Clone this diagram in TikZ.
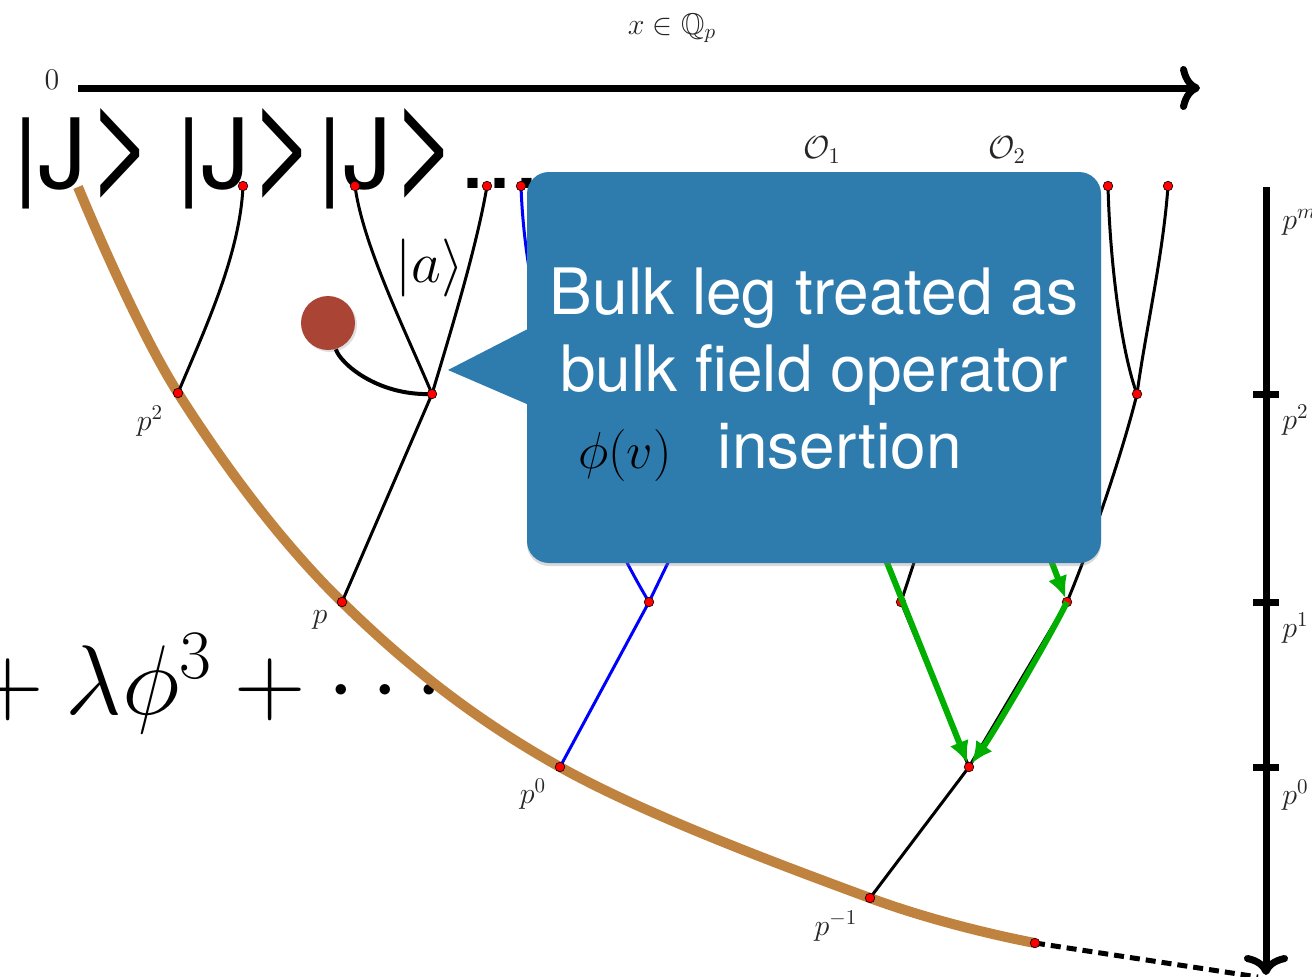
\RequirePackage{fix-cm}
\documentclass[tikz,border=0pt]{standalone}
\usepackage{amssymb}
\usepackage{fontspec}
\newfontfamily\helv{TeX Gyre Heros}
\usetikzlibrary{arrows.meta,shadows}
\definecolor{arcbrown}{RGB}{192,130,63}
\definecolor{ballred}{RGB}{170,68,52}
\definecolor{callblue}{RGB}{46,123,173}
\definecolor{flowgreen}{RGB}{0,175,0}
\definecolor{labgray}{HTML}{262626}
\newcommand{\bigket}{\scalebox{1.2}[1.45]{>}}
\tikzset{
  vtx/.style={circle,fill=red,draw=black,line width=0.3pt,inner sep=0pt,minimum size=4.8pt},
  leg/.style={draw=black,line width=1.5pt},
  blueleg/.style={draw=blue,line width=1.5pt},
  bulkleg/.style={draw=black,line width=2pt},
  geod/.style={draw=arcbrown,line width=5pt},
  flow/.style={draw=flowgreen,line width=3pt,-{Latex[length=11pt,width=10pt]}},
  axisline/.style={draw=black,line width=3.5pt,-{Computer Modern Rightarrow[length=10pt,width=22pt]}},
  axtick/.style={draw=black,line width=3.5pt},
  dotted line/.style={draw=black,line width=2.5pt,dash pattern=on 5pt off 3pt},
  lab/.style={font=\fontsize{15}{18}\selectfont,text=labgray,inner sep=0pt},
  ball/.style={circle,fill=ballred,minimum size=27pt,inner sep=0pt,drop shadow={opacity=0.25,shadow xshift=1pt,shadow yshift=-1pt}},
  callbox/.style={fill=callblue,rounded corners=11pt,minimum width=287pt,minimum height=195.5pt,inner sep=0pt,drop shadow={opacity=0.3,shadow xshift=0pt,shadow yshift=-1.5pt}},
  calltxt/.style={text=white,align=center,inner sep=0pt,font=\helv\fontsize{32}{38.5}\selectfont},
}

\begin{document}
\begin{tikzpicture}[x=0.5pt,y=-0.5pt]
  \useasboundingbox (0,0) rectangle (1312,976);
  % big boundary text
  \node[anchor=base west,inner sep=0pt,font=\helv\fontsize{48.5}{58}\selectfont] (kets) at (13,188) {|J\bigket\hspace{10.5pt}|J\bigket|J\bigket...};
  \node[anchor=base west,inner sep=0pt,font=\fontsize{49.5}{58}\selectfont] (series) at (-50,714) {${}+\lambda\phi^3+\cdots$};

  % tree vertices
  \coordinate (l0) at (78,187);
  \coordinate (l1) at (243,186);
  \coordinate (l2) at (355,186);
  \coordinate (l3) at (487,186);
  \coordinate (l4) at (521,186);
  \coordinate (l5) at (1108,186);
  \coordinate (l6) at (1168,186);
  \coordinate (g2) at (178,393);
  \coordinate (g1) at (342,602);
  \coordinate (g0) at (560,767);
  \coordinate (gm) at (870,898);
  \coordinate (gend) at (1035,943);
  \coordinate (va) at (432,394);
  \coordinate (vb) at (1137,394);
  \coordinate (vblue) at (649,602);
  \coordinate (ve) at (901,602);
  \coordinate (vc) at (1067,602);
  \coordinate (vd) at (969,767);
  \coordinate (hb) at (691,515);
  \coordinate (he) at (928,520);
  \coordinate (ga) at (884,555);
  \coordinate (gb) at (1049,555);

  % geodesic
  \draw[geod] plot[smooth,tension=0.6] coordinates {(l0) (g2) (g1) (g0) (gm) (gend)};
  \coordinate (rtop) at (1266,187);
  \coordinate (rbot) at (1266,975);
  \draw[dotted line] (gend) -- (1258,977);

  % tree edges
  \draw[leg] (l1) .. controls +(-3,70) and +(25,-60) .. (g2);
  \draw[leg] (l2) .. controls +(8,60) and +(-25,-60) .. (va);
  \draw[leg] (l3) .. controls +(-10,60) and +(18,-60) .. (va);
  \draw[leg] (va) -- (g1);
  \draw[leg] (l5) .. controls +(2,80) and +(-15,-40) .. (vb);
  \draw[leg] (l6) .. controls +(-5,70) and +(8,-60) .. (vb);
  \draw[leg] (vb) .. controls +(-15,60) and +(25,-60) .. (vc);
  \draw[leg] (vc) -- (vd);
  \draw[leg] (ve) -- (vd);
  \draw[leg] (ve) -- (he);
  \draw[leg] (vd) -- (gm);
  \draw[blueleg] (l4) .. controls +(5,150) and +(-60,-100) .. (vblue);
  \draw[blueleg] (vblue) -- (hb);
  \draw[blueleg] (vblue) -- (g0);

  % bulk leg
  \node[ball] (bulk) at (328,323) {};
  \draw[bulkleg] (va) .. controls +(-55,2) and +(12,40) .. (bulk);

  \foreach \v in {l1,l2,l3,l4,l5,l6,g2,g1,g0,gm,gend,va,vb,vblue,ve,vc,vd}
    \node[vtx] (dot-\v) at (\v) {};

  % green flow
  \draw[flow,shorten >=2pt] (ga) -- (vd);
  \draw[flow,shorten >=2pt] (gb) -- (vc);
  \draw[flow,shorten >=2pt] (vc) .. controls +(-20,40) and +(25,-35) .. (vd);

  % callout
  \node[callbox] (call) at (814,367.5) {};
  \coordinate (tip) at (448,370);
  \fill[callblue] ([xshift=3pt,yshift=20.5pt]call.west) -- (tip) -- ([xshift=3pt,yshift=-19.5pt]call.west) -- cycle;
  \node[calltxt,anchor=north] (calltext) at (814,267) {Bulk leg treated as\\bulk field operator\\{\color{black}\fontsize{26}{30}\selectfont$\phi(v)$}\hspace{23pt}insertion\hspace*{44pt}};

  % axes
  \coordinate (xstart) at (78,88);
  \coordinate (xend) at (1200,88);
  \draw[axisline] (xstart) -- (xend);
  \draw[axisline] (rtop) -- (rbot);
  \foreach \y in {394,602,767}
    \draw[axtick] (1253,\y) -- (1279,\y);

  % labels
  \node[lab] (zero) at (52,80) {$0$};
  \node[lab] (xlab) at (672,28) {$x\in\mathbb{Q}_p$};
  \node[lab,font=\fontsize{16}{19}\selectfont] (op1) at (822,150) {$\mathcal{O}_1$};
  \node[lab,font=\fontsize{16}{19}\selectfont] (op2) at (1007,150) {$\mathcal{O}_2$};
  \node[font=\fontsize{29}{35}\selectfont,inner sep=0pt] (ket-a) at (430,268) {$|a\rangle$};
  \node[lab] (pl2) at (150,421) {$p^2$};
  \node[lab] (pl1) at (320,620) {$p$};
  \node[lab] (pl0) at (533,794) {$p^0$};
  \node[lab] (plm) at (836,926) {$p^{-1}$};
  \node[lab,anchor=west] (pr-m) at (1282,222) {$p^m$};
  \node[lab,anchor=west] (pr-2) at (1282,420) {$p^2$};
  \node[lab,anchor=west] (pr-1) at (1282,628) {$p^1$};
  \node[lab,anchor=west] (pr-0) at (1282,795) {$p^0$};
\end{tikzpicture}
\end{document}
